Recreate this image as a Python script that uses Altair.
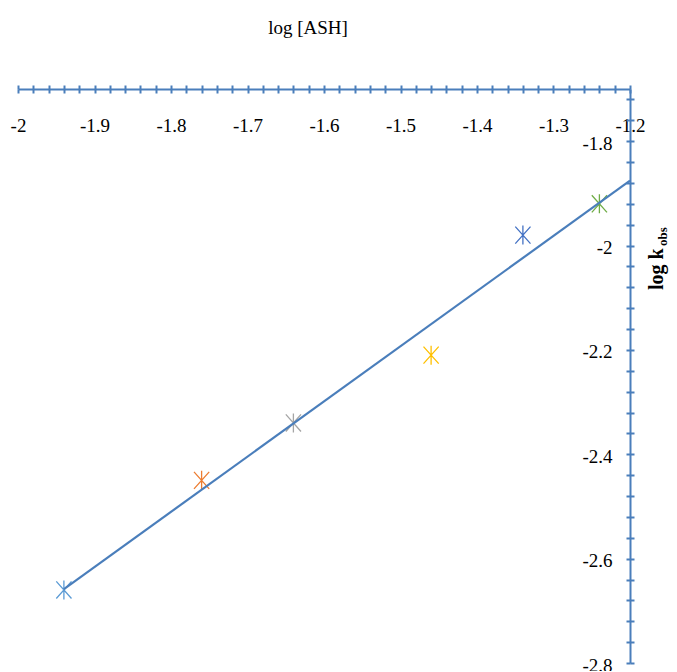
import altair as alt
import pandas as pd

# Data
log_ash = [-1.94, -1.76, -1.64, -1.46, -1.34, -1.24]
log_kobs = [-2.66, -2.45, -2.34, -2.21, -1.98, -1.92]
series = ["s1", "s2", "s3", "s4", "s5", "s6"]
series_colors = ["#5B9BD5", "#ED7D31", "#A5A5A5", "#FFC000", "#4472C4", "#70AD47"]
x_ticks = [round(-2 + 0.02 * i, 2) for i in range(41)]
y_ticks = [round(-2.8 + 0.04 * i, 2) for i in range(28)]
x_title = ["log [ASH]"]
y_title_main = ["log k"]
y_title_sub = ["obs"]

df = pd.DataFrame({"x": log_ash, "y": log_kobs, "s": series})

W, H = 612, 574
XDOM = [-2, -1.2]
YDOM = [-2.8, -1.7]
AX = "#4A7EBB"
FONT = "Liberation Serif"

xs = alt.Scale(domain=XDOM, nice=False, zero=False)
ys = alt.Scale(domain=YDOM, nice=False, zero=False)

star = "M0,-1L0,1M-0.8,-0.9L0.8,0.9M-0.8,0.9L0.8,-0.9"

points = alt.Chart(df).mark_point(
    shape=star, size=361, filled=False, strokeWidth=1.3, opacity=1
).encode(
    x=alt.X("x:Q", scale=xs, axis=alt.Axis(
        orient="top", values=x_ticks, labels=False, title=None, grid=False,
        domainColor=AX, domainWidth=2, tickColor=AX, tickWidth=2, tickSize=4)),
    y=alt.Y("y:Q", scale=ys, axis=alt.Axis(
        orient="right", values=y_ticks, labels=False, title=None, grid=False,
        domainColor=AX, domainWidth=2, tickColor=AX, tickWidth=2, tickSize=4)),
    color=alt.Color("s:N", scale=alt.Scale(domain=series, range=series_colors), legend=None),
)

line = alt.Chart(df).transform_regression(
    "x", "y", extent=[min(log_ash), XDOM[1]]
).mark_line(color=AX, strokeWidth=2.2).encode(
    x=alt.X("x:Q", scale=xs, axis=alt.Axis(
        orient="bottom", offset=-H, values=x_ticks, domain=False, grid=False, title=None,
        tickColor=AX, tickWidth=2, tickSize=4,
        labelExpr="abs(datum.value*10 - round(datum.value*10)) < 0.001 ? toString(datum.value) : ''",
        labelFont=FONT, labelFontSize=19, labelColor="black", labelPadding=23,
        labelOverlap=False, labelFlush=False, labelBound=False)),
    y=alt.Y("y:Q", scale=ys, axis=alt.Axis(
        orient="left", offset=-W, values=y_ticks, domain=False, grid=False, title=None,
        tickColor=AX, tickWidth=2, tickSize=4,
        labelExpr="abs(datum.value*5 - round(datum.value*5)) < 0.001 ? toString(datum.value) : ''",
        labelFont=FONT, labelFontSize=19, labelColor="black", labelPadding=14, labelOffset=2,
        labelOverlap=False, labelFlush=False, labelBound=False)),
)

t_x = alt.Chart(pd.DataFrame({"t": x_title})).mark_text(
    font=FONT, fontSize=19, color="black", align="center", baseline="alphabetic"
).encode(text="t:N", x=alt.value(290), y=alt.value(-55))

t_y = alt.Chart(pd.DataFrame({"t": y_title_main})).mark_text(
    font=FONT, fontSize=20, fontWeight="bold", color="black", angle=270,
    align="left", baseline="alphabetic"
).encode(text="t:N", x=alt.value(645), y=alt.value(201))

t_ysub = alt.Chart(pd.DataFrame({"t": y_title_sub})).mark_text(
    font=FONT, fontSize=13, fontWeight="bold", color="black", angle=270,
    align="left", baseline="alphabetic"
).encode(text="t:N", x=alt.value(649), y=alt.value(157))

chart = alt.layer(points, line, t_x, t_y, t_ysub).resolve_scale(
    x="independent", y="independent"
).properties(
    width=W, height=H,
    autosize=alt.AutoSizeParams(type="none"),
    padding={"left": 10, "top": 81, "right": 39, "bottom": 8},
).configure_view(stroke=None)

chart.save("out.html", embed_options={"renderer": "svg", "actions": False})
